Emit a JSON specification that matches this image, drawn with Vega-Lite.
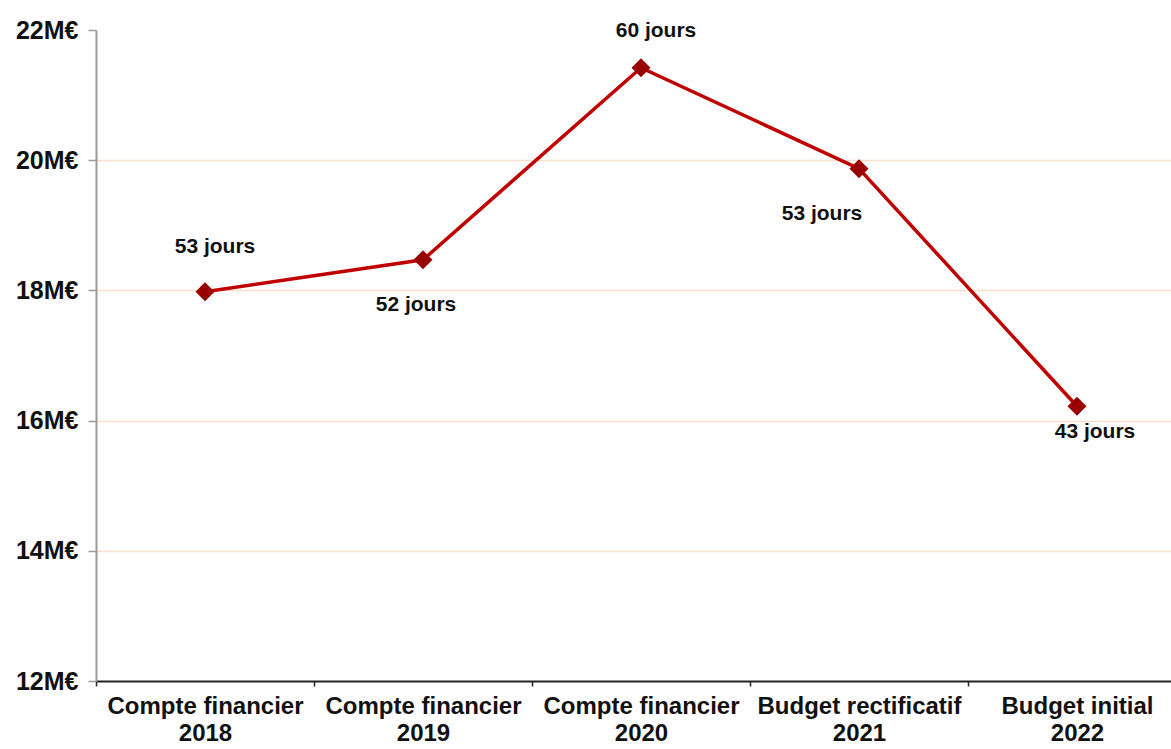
{
  "$schema": "https://vega.github.io/schema/vega-lite/v6.json",
  "width": 1075,
  "height": 651,
  "autosize": "none",
  "padding": {"left": 96, "top": 30, "right": 0, "bottom": 68},
  "background": "white",
  "config": {"view": {"stroke": null}, "font": "Liberation Sans"},
  "data": {"values": [
    {"cat": "Compte financier 2018", "valeur": 17.98, "jours": "53 jours"},
    {"cat": "Compte financier 2019", "valeur": 18.47, "jours": "52 jours"},
    {"cat": "Compte financier 2020", "valeur": 21.42, "jours": "60 jours"},
    {"cat": "Budget rectificatif 2021", "valeur": 19.87, "jours": "53 jours"},
    {"cat": "Budget initial 2022", "valeur": 16.22, "jours": "43 jours"}
  ]},
  "encoding": {
    "x": {
      "field": "cat", "type": "nominal", "sort": null,
      "scale": {"type": "band", "range": [0, 1090], "paddingInner": 0, "paddingOuter": 0},
      "axis": {
        "title": null, "labelAngle": 0, "tickBand": "extent",
        "domainColor": "#222", "domainWidth": 2, "tickColor": "#222", "tickSize": 5, "tickWidth": 1.5,
        "labelFont": "Liberation Sans", "labelFontWeight": "bold", "labelFontSize": 24, "labelColor": "#111",
        "labelPadding": 8, "labelLineHeight": 27, "labelLimit": 0, "labelOverlap": false,
        "labelExpr": "[slice(datum.label, 0, lastindexof(datum.label, ' ')), slice(datum.label, lastindexof(datum.label, ' ') + 1)]"
      }
    },
    "y": {
      "field": "valeur", "type": "quantitative",
      "scale": {"domain": [12, 22], "nice": false, "zero": false},
      "axis": {
        "title": null, "values": [12, 14, 16, 18, 20, 22],
        "labelExpr": "datum.value + 'M€'",
        "domainColor": "#9a9a9a", "domainWidth": 2, "tickColor": "#9a9a9a", "tickSize": 8, "tickWidth": 1.5,
        "labelFont": "Liberation Sans", "labelFontWeight": "bold", "labelFontSize": 25, "labelColor": "#111",
        "labelPadding": 10,
        "grid": true, "gridWidth": 1.5,
        "gridColor": {"condition": {"test": "datum.value >= 22 || datum.value <= 12", "value": "transparent"}, "value": "#FCDFCB"}
      }
    }
  },
  "layer": [
    {"mark": {"type": "line", "color": "#C00000", "strokeWidth": 3.5}},
    {"mark": {"type": "point", "shape": "diamond", "filled": true, "size": 360, "color": "#990000", "opacity": 1}},
    {"transform": [{"filter": "datum.cat == 'Compte financier 2018'"}],
     "mark": {"type": "text", "fontSize": 21, "fontWeight": "bold", "color": "#111", "dx": 10, "dy": -45},
     "encoding": {"text": {"field": "jours"}}},
    {"transform": [{"filter": "datum.cat == 'Compte financier 2019'"}],
     "mark": {"type": "text", "fontSize": 21, "fontWeight": "bold", "color": "#111", "dx": -7, "dy": 45},
     "encoding": {"text": {"field": "jours"}}},
    {"transform": [{"filter": "datum.cat == 'Compte financier 2020'"}],
     "mark": {"type": "text", "fontSize": 21, "fontWeight": "bold", "color": "#111", "dx": 15, "dy": -37},
     "encoding": {"text": {"field": "jours"}}},
    {"transform": [{"filter": "datum.cat == 'Budget rectificatif 2021'"}],
     "mark": {"type": "text", "fontSize": 21, "fontWeight": "bold", "color": "#111", "dx": -37, "dy": 45},
     "encoding": {"text": {"field": "jours"}}},
    {"transform": [{"filter": "datum.cat == 'Budget initial 2022'"}],
     "mark": {"type": "text", "fontSize": 21, "fontWeight": "bold", "color": "#111", "dx": 18, "dy": 26},
     "encoding": {"text": {"field": "jours"}}}
  ]
}
